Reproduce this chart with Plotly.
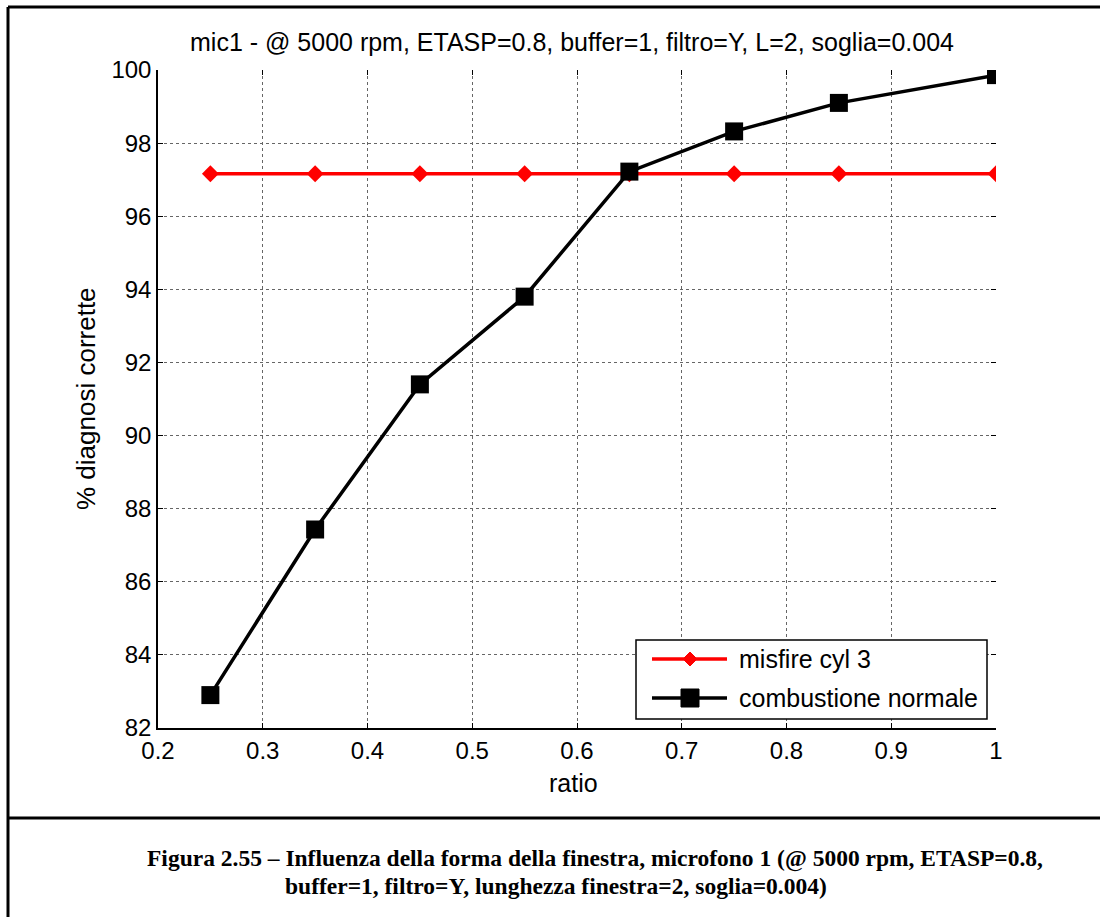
import plotly.graph_objects as go

# Data
ratio = [0.25, 0.35, 0.45, 0.55, 0.65, 0.75, 0.85, 1.0]
misfire_cyl3 = [97.16, 97.16, 97.16, 97.16, 97.16, 97.16, 97.16, 97.16]
combustione_normale = [82.9, 87.43, 91.4, 93.8, 97.22, 98.32, 99.1, 99.86]

series_names = ["misfire cyl 3", "combustione normale"]
series_colors = ["#ff0000", "#000000"]

x_ticks = [0.2, 0.3, 0.4, 0.5, 0.6, 0.7, 0.8, 0.9, 1.0]
x_tick_text = ["0.2", "0.3", "0.4", "0.5", "0.6", "0.7", "0.8", "0.9", "1"]
y_ticks = [82, 84, 86, 88, 90, 92, 94, 96, 98, 100]

title_text = "mic1 - @ 5000 rpm, ETASP=0.8, buffer=1, filtro=Y, L=2, soglia=0.004"
caption_lines = [
    "Figura 2.55 – Influenza della forma della finestra, microfono 1 (@ 5000 rpm, ETASP=0.8,",
    "buffer=1, filtro=Y, lunghezza finestra=2, soglia=0.004)",
]

W, H = 1100, 917
L, R, T, B = 158, 996, 70, 728  # plot area in pixels


def px(x):
    return (x - L) / (R - L)


def py(y):
    return 1 - (y - T) / (B - T)


SANS = "Liberation Sans, Arial, sans-serif"
SERIF = "Liberation Serif, Times New Roman, serif"
FS_TICK = 24
FS_LABEL = 25

fig = go.Figure()
fig.add_trace(go.Scatter(
    x=ratio, y=misfire_cyl3, mode="lines+markers", name=series_names[0],
    line=dict(color=series_colors[0], width=3.5),
    marker=dict(symbol="diamond", size=13, color=series_colors[0]),
    showlegend=False,
))
fig.add_trace(go.Scatter(
    x=ratio, y=combustione_normale, mode="lines+markers", name=series_names[1],
    line=dict(color=series_colors[1], width=3.5),
    marker=dict(symbol="square", size=18, color=series_colors[1]),
    showlegend=False,
))

axis_common = dict(
    ticks="inside", ticklen=5, tickcolor="black", tickwidth=1,
    showgrid=True, gridcolor="#666666", griddash="dot", gridwidth=1,
    zeroline=False, tickfont=dict(family=SANS, size=FS_TICK, color="black"),
)

fig.update_layout(
    width=W, height=H,
    margin=dict(l=L, r=W - R, t=T, b=H - B, pad=0),
    paper_bgcolor="white", plot_bgcolor="white",
    showlegend=False,
    xaxis=dict(
        range=[0.2, 1.0], tickvals=x_ticks, ticktext=x_tick_text,
        showline=True, linecolor="black", linewidth=1.5, **axis_common,
    ),
    yaxis=dict(
        range=[82, 100], tickvals=y_ticks,
        showline=True, linecolor="black", linewidth=1.5, **axis_common,
    ),
    xaxis2=dict(
        range=[0.2, 1.0], tickvals=x_ticks, overlaying="x", side="top",
        showticklabels=False, showgrid=False, zeroline=False, showline=False,
        ticks="inside", ticklen=5, tickcolor="black",
    ),
    yaxis2=dict(
        range=[82, 100], tickvals=y_ticks, overlaying="y", side="right",
        showticklabels=False, showgrid=False, zeroline=False, showline=False,
        ticks="inside", ticklen=5, tickcolor="black",
    ),
)

# Empty trace so the mirrored tick axes are drawn
fig.add_trace(go.Scatter(x=[None], y=[None], xaxis="x2", yaxis="y2",
                         showlegend=False, hoverinfo="skip"))

annotations = [
    dict(text=title_text, x=px(572), y=py(42), xref="paper", yref="paper",
         showarrow=False, xanchor="center", yanchor="middle",
         font=dict(family=SANS, size=FS_LABEL, color="black")),
    dict(text="ratio", x=px(573), y=py(783), xref="paper", yref="paper",
         showarrow=False, xanchor="center", yanchor="middle",
         font=dict(family=SANS, size=FS_LABEL, color="black")),
    dict(text="% diagnosi corrette", x=px(86), y=py(399), xref="paper", yref="paper",
         showarrow=False, xanchor="center", yanchor="middle", textangle=-90,
         font=dict(family=SANS, size=FS_LABEL + 1, color="black")),
]
caption_centers = [595, 556]
for i, line in enumerate(caption_lines):
    annotations.append(dict(
        text="<b>" + line + "</b>", x=px(caption_centers[i]), y=py(858 + 28 * i),
        xref="paper", yref="paper", showarrow=False,
        xanchor="center", yanchor="middle",
        font=dict(family=SERIF, size=23.5, color="black"),
    ))

# Legend box (drawn by hand so the sample lines are long)
leg_x0, leg_x1, leg_y0, leg_y1 = 636, 987, 640, 719
row_y = [659, 698]
sample_x0, sample_x1, sample_mid = 652, 727, 690
text_x = 737

shapes = [
    dict(type="rect", xref="paper", yref="paper",
         x0=px(leg_x0), x1=px(leg_x1), y0=py(leg_y1), y1=py(leg_y0),
         line=dict(color="black", width=1.5), fillcolor="white", layer="above"),
]
for i, (name, color) in enumerate(zip(series_names, series_colors)):
    yy = py(row_y[i])
    shapes.append(dict(type="line", xref="paper", yref="paper",
                       x0=px(sample_x0), x1=px(sample_x1), y0=yy, y1=yy,
                       line=dict(color=color, width=3.5), layer="above"))
    annotations.append(dict(
        text=name, x=px(text_x), y=yy, xref="paper", yref="paper",
        showarrow=False, xanchor="left", yanchor="middle",
        font=dict(family=SANS, size=FS_LABEL, color="black")))

# Legend sample markers: diamond for the first row, square for the second
d = 7
cx, cy = sample_mid, row_y[0]
shapes.append(dict(
    type="path", xref="paper", yref="paper", layer="above",
    path=f"M {px(cx)},{py(cy - d)} L {px(cx + d)},{py(cy)} L {px(cx)},{py(cy + d)} L {px(cx - d)},{py(cy)} Z",
    fillcolor=series_colors[0], line=dict(color=series_colors[0], width=1)))
s = 9
cy = row_y[1]
shapes.append(dict(
    type="rect", xref="paper", yref="paper", layer="above",
    x0=px(cx - s), x1=px(cx + s), y0=py(cy + s), y1=py(cy - s),
    fillcolor=series_colors[1], line=dict(color=series_colors[1], width=1)))

# Frame around figure and caption
frame = dict(color="black", width=3)
shapes += [
    dict(type="line", xref="paper", yref="paper", x0=px(8), x1=px(1102), y0=py(7), y1=py(7), line=frame),
    dict(type="line", xref="paper", yref="paper", x0=px(8), x1=px(8), y0=py(7), y1=py(920), line=frame),
    dict(type="line", xref="paper", yref="paper", x0=px(8), x1=px(1102), y0=py(818), y1=py(818), line=frame),
]
fig.update_layout(shapes=shapes, annotations=annotations)

fig.write_html("out.html")
